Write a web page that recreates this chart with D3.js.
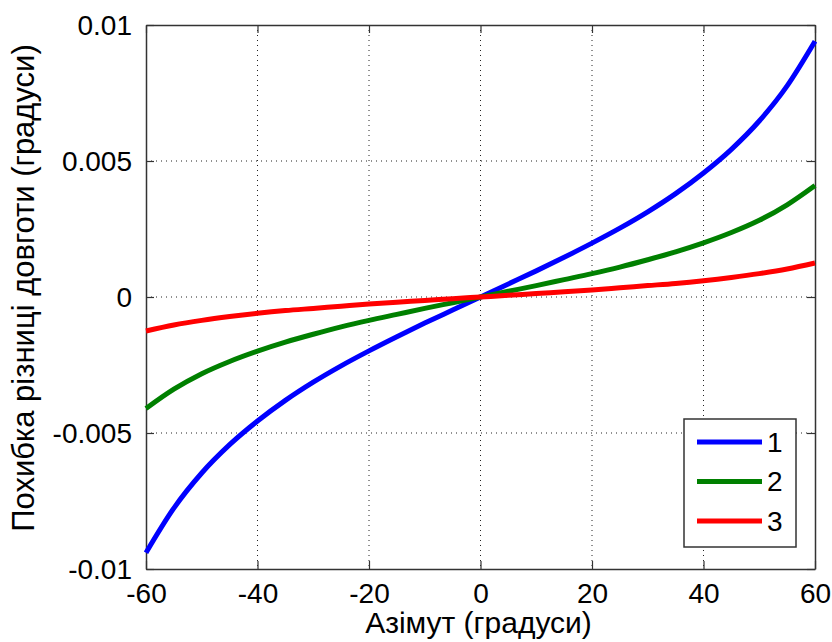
<!DOCTYPE html>
<html>
<head>
<meta charset="utf-8">
<script src="https://cdn.jsdelivr.net/npm/d3@7"></script>
<style>
  body { margin: 0; background: #fff; }
  text { font-family: "Liberation Sans", Arial, sans-serif; }
</style>
</head>
<body>
<div id="chart"></div>
<script>
// azimuth values (degrees)
var azimuth = [-60,-55,-50,-45,-40,-35,-30,-25,-20,-15,-10,-5,0,5,10,15,20,25,30,35,40,45,50,55,60];

// longitude difference error, three cases
var series1 = [-0.0094,-0.00776,-0.00647,-0.00543,-0.00456,-0.0038,-0.00313,-0.00253,-0.00198,-0.00146,-0.00096,-0.00048,0,
               0.00048,0.00096,0.00146,0.00198,0.00253,0.00313,0.0038,0.00456,0.00543,0.00647,0.00776,0.0094];
var series2 = [-0.0041,-0.00339,-0.00282,-0.00237,-0.00199,-0.00166,-0.00137,-0.0011,-0.00086,-0.00064,-0.00042,-0.00021,0,
               0.00021,0.00042,0.00064,0.00086,0.0011,0.00137,0.00166,0.00199,0.00237,0.00282,0.00339,0.0041];
var series3 = [-0.00125,-0.00103,-0.00086,-0.00072,-0.0006,-0.0005,-0.00042,-0.00034,-0.00026,-0.00019,-0.00013,-0.00006,0,
               0.00006,0.00013,0.00019,0.00026,0.00034,0.00042,0.0005,0.0006,0.00072,0.00086,0.00103,0.00125];

var seriesNames = ["1", "2", "3"];
var seriesColors = ["#0000ff", "#008000", "#ff0000"];

var xTicks = [-60, -40, -20, 0, 20, 40, 60];
var xTickLabels = ["-60", "-40", "-20", "0", "20", "40", "60"];
var yTicks = [-0.01, -0.005, 0, 0.005, 0.01];
var yTickLabels = ["-0.01", "-0.005", "0", "0.005", "0.01"];

// set the dimensions and margins of the graph
var margin = {top: 25, right: 17, bottom: 73, left: 146},
    width = 832 - margin.left - margin.right,
    height = 642 - margin.top - margin.bottom;

var svg = d3.select("#chart")
  .append("svg")
    .attr("width", 832)
    .attr("height", 642)
  .append("g")
    .attr("transform", "translate(" + margin.left + "," + margin.top + ")");

var x = d3.scaleLinear().domain([-60, 60]).range([0, width]);
var y = d3.scaleLinear().domain([-0.01, 0.01]).range([height, 0]);

// dotted grid
svg.append("g")
  .selectAll("line")
  .data(xTicks.slice(1, -1))
  .enter().append("line")
    .attr("x1", function(d) { return x(d); })
    .attr("x2", function(d) { return x(d); })
    .attr("y1", 0).attr("y2", height)
    .attr("stroke", "#222").attr("stroke-width", 1)
    .attr("stroke-dasharray", "1,4");
svg.append("g")
  .selectAll("line")
  .data(yTicks.slice(1, -1))
  .enter().append("line")
    .attr("y1", function(d) { return y(d); })
    .attr("y2", function(d) { return y(d); })
    .attr("x1", 0).attr("x2", width)
    .attr("stroke", "#222").attr("stroke-width", 1)
    .attr("stroke-dasharray", "1,4");

// axes, ticks inward
var axB = svg.append("g")
  .attr("transform", "translate(0," + height + ")")
  .call(d3.axisBottom(x).tickValues(xTicks).tickSizeInner(-8).tickSizeOuter(0).tickPadding(14)
    .tickFormat(function(d, i) { return xTickLabels[i]; }));
var axT = svg.append("g")
  .call(d3.axisTop(x).tickValues(xTicks).tickSizeInner(-8).tickSizeOuter(0).tickFormat(""));
var axL = svg.append("g")
  .call(d3.axisLeft(y).tickValues(yTicks).tickSizeInner(-8).tickSizeOuter(0).tickPadding(14)
    .tickFormat(function(d, i) { return yTickLabels[i]; }));
var axR = svg.append("g")
  .attr("transform", "translate(" + width + ",0)")
  .call(d3.axisRight(y).tickValues(yTicks).tickSizeInner(-8).tickSizeOuter(0).tickFormat(""));

[axB, axT, axL, axR].forEach(function(a) {
  a.select(".domain").attr("stroke", "#333").attr("stroke-width", 1.5);
  a.selectAll(".tick line").attr("stroke", "#333").attr("stroke-width", 1.2);
  a.selectAll(".tick text")
    .attr("font-size", 28)
    .attr("font-family", "Liberation Sans, Arial, sans-serif")
    .attr("fill", "black");
});
axL.selectAll(".tick text").attr("dy", "0.35em");

// curves
var data = [series1, series2, series3].map(function(s) {
  return s.map(function(v, i) { return {az: azimuth[i], v: v}; });
});
var line = d3.line()
  .curve(d3.curveMonotoneX)
  .x(function(d) { return x(d.az); })
  .y(function(d) { return y(d.v); });

svg.append("g")
  .selectAll("path")
  .data(data)
  .enter().append("path")
    .attr("d", line)
    .attr("fill", "none")
    .attr("stroke", function(d, i) { return seriesColors[i]; })
    .attr("stroke-width", 5)
    .attr("stroke-linejoin", "round");

// legend
var lg = svg.append("g").attr("transform", "translate(" + (684 - margin.left) + "," + (419 - margin.top) + ")");
lg.append("rect")
  .attr("width", 112).attr("height", 128)
  .attr("fill", "white").attr("stroke", "#333").attr("stroke-width", 1.5);
seriesNames.forEach(function(name, i) {
  lg.append("line")
    .attr("x1", 13).attr("x2", 78)
    .attr("y1", 23 + i * 39.5).attr("y2", 23 + i * 39.5)
    .attr("stroke", seriesColors[i]).attr("stroke-width", 5);
  lg.append("text")
    .attr("x", 83).attr("y", 23 + i * 39.5)
    .attr("dy", "0.35em")
    .attr("font-size", 28)
    .text(name);
});

// axis titles
svg.append("text")
  .attr("x", width / 2 - 2).attr("y", height + 64)
  .attr("text-anchor", "middle")
  .attr("font-size", 30)
  .text("Азімут (градуси)");
svg.append("text")
  .attr("transform", "translate(" + (-112) + "," + 263 + ") rotate(-90)")
  .attr("text-anchor", "middle")
  .attr("font-size", 31)
  .text("Похибка різниці довготи (градуси)");
</script>
</body>
</html>
